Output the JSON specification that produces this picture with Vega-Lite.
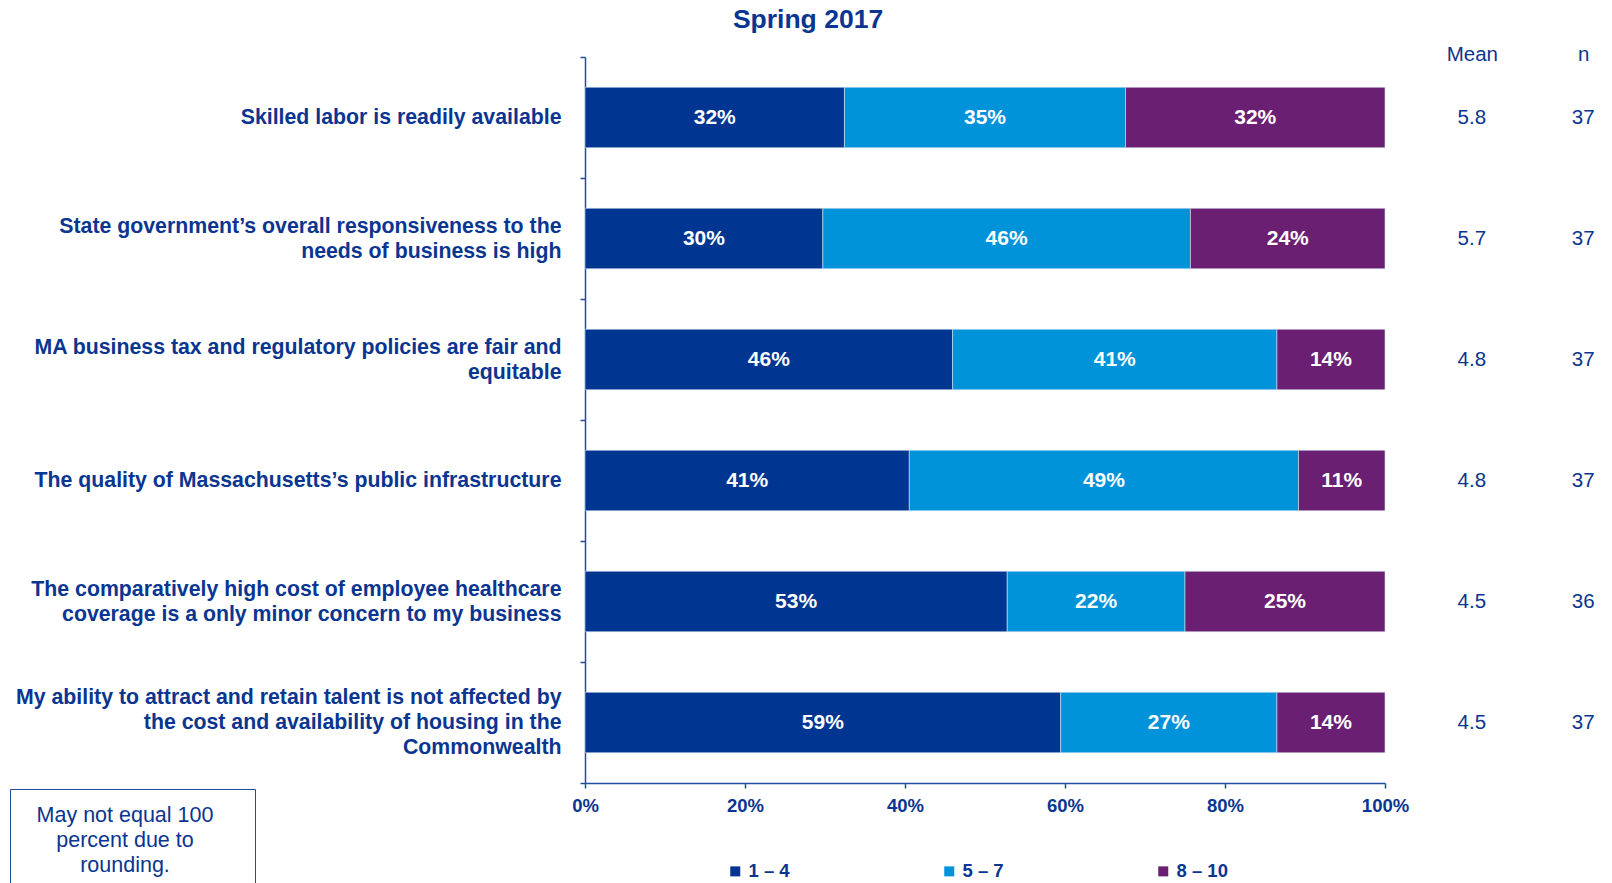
{
  "$schema": "https://vega.github.io/schema/vega-lite/v6.json",
  "padding": {"left": 5, "top": 6, "right": 5, "bottom": 5},
  "background": "white",
  "config": {"font": "Liberation Sans", "view": {"stroke": null}},
  "title": {"text": "Spring 2017", "fontSize": 26.5, "fontWeight": "bold", "color": "#0A3590", "anchor": "middle", "offset": 11},
  "bounds": "flush",
  "spacing": 59,
  "resolve": {"legend": {"color": "independent", "fill": "independent"}},
  "datasets": {
    "bars": [
      {"statement": "Skilled labor is readily available", "band": "1 – 4", "pct": 0.3243},
      {"statement": "Skilled labor is readily available", "band": "5 – 7", "pct": 0.3514},
      {"statement": "Skilled labor is readily available", "band": "8 – 10", "pct": 0.3243},
      {"statement": "State government’s overall responsiveness to the\nneeds of business is high", "band": "1 – 4", "pct": 0.2973},
      {"statement": "State government’s overall responsiveness to the\nneeds of business is high", "band": "5 – 7", "pct": 0.4595},
      {"statement": "State government’s overall responsiveness to the\nneeds of business is high", "band": "8 – 10", "pct": 0.2432},
      {"statement": "MA business tax and regulatory policies are fair and\nequitable", "band": "1 – 4", "pct": 0.4595},
      {"statement": "MA business tax and regulatory policies are fair and\nequitable", "band": "5 – 7", "pct": 0.4054},
      {"statement": "MA business tax and regulatory policies are fair and\nequitable", "band": "8 – 10", "pct": 0.1351},
      {"statement": "The quality of Massachusetts’s public infrastructure", "band": "1 – 4", "pct": 0.4054},
      {"statement": "The quality of Massachusetts’s public infrastructure", "band": "5 – 7", "pct": 0.4865},
      {"statement": "The quality of Massachusetts’s public infrastructure", "band": "8 – 10", "pct": 0.1081},
      {"statement": "The comparatively high cost of employee healthcare\ncoverage is a only minor concern to my business", "band": "1 – 4", "pct": 0.5278},
      {"statement": "The comparatively high cost of employee healthcare\ncoverage is a only minor concern to my business", "band": "5 – 7", "pct": 0.2222},
      {"statement": "The comparatively high cost of employee healthcare\ncoverage is a only minor concern to my business", "band": "8 – 10", "pct": 0.25},
      {"statement": "My ability to attract and retain talent is not affected by\nthe cost and availability of housing in the\nCommonwealth", "band": "1 – 4", "pct": 0.5946},
      {"statement": "My ability to attract and retain talent is not affected by\nthe cost and availability of housing in the\nCommonwealth", "band": "5 – 7", "pct": 0.2703},
      {"statement": "My ability to attract and retain talent is not affected by\nthe cost and availability of housing in the\nCommonwealth", "band": "8 – 10", "pct": 0.1351}
    ],
    "stats": [
      {"statement": "Skilled labor is readily available", "col": "Mean", "value": "5.8"},
      {"statement": "Skilled labor is readily available", "col": "n", "value": "37"},
      {"statement": "State government’s overall responsiveness to the\nneeds of business is high", "col": "Mean", "value": "5.7"},
      {"statement": "State government’s overall responsiveness to the\nneeds of business is high", "col": "n", "value": "37"},
      {"statement": "MA business tax and regulatory policies are fair and\nequitable", "col": "Mean", "value": "4.8"},
      {"statement": "MA business tax and regulatory policies are fair and\nequitable", "col": "n", "value": "37"},
      {"statement": "The quality of Massachusetts’s public infrastructure", "col": "Mean", "value": "4.8"},
      {"statement": "The quality of Massachusetts’s public infrastructure", "col": "n", "value": "37"},
      {"statement": "The comparatively high cost of employee healthcare\ncoverage is a only minor concern to my business", "col": "Mean", "value": "4.5"},
      {"statement": "The comparatively high cost of employee healthcare\ncoverage is a only minor concern to my business", "col": "n", "value": "36"},
      {"statement": "My ability to attract and retain talent is not affected by\nthe cost and availability of housing in the\nCommonwealth", "col": "Mean", "value": "4.5"},
      {"statement": "My ability to attract and retain talent is not affected by\nthe cost and availability of housing in the\nCommonwealth", "col": "n", "value": "37"}
    ]
  },
  "hconcat": [
    {
      "width": 800,
      "height": 726,
      "data": {"name": "bars"},
      "transform": [
        {"stack": "pct", "groupby": ["statement"], "sort": [{"field": "band", "order": "ascending"}], "as": ["x0", "x1"]}
      ],
      "encoding": {
        "y": {
          "field": "statement",
          "type": "nominal",
          "sort": [
            "Skilled labor is readily available",
            "State government’s overall responsiveness to the\nneeds of business is high",
            "MA business tax and regulatory policies are fair and\nequitable",
            "The quality of Massachusetts’s public infrastructure",
            "The comparatively high cost of employee healthcare\ncoverage is a only minor concern to my business",
            "My ability to attract and retain talent is not affected by\nthe cost and availability of housing in the\nCommonwealth"
          ],
          "scale": {"paddingInner": 0, "paddingOuter": 0},
          "axis": {
            "title": null,
            "labelExpr": "split(datum.label, '\\n')",
            "labelFontSize": 21.3,
            "labelFontWeight": "bold",
            "labelColor": "#0A3590",
            "labelLimit": 1000,
            "labelLineHeight": 25,
            "labelOffset": {"expr": "-(length(split(datum.value, '\\n')) - 1) * 12.5"},
            "labelPadding": 19,
            "tickSize": 5,
            "tickBand": "extent",
            "tickColor": "#1F4E9E",
            "tickWidth": 1.5,
            "domainColor": "#1F4E9E",
            "domainWidth": 1.5,
            "minExtent": 580,
            "maxExtent": 580
          }
        }
      },
      "layer": [
        {
          "mark": {"type": "bar", "height": {"band": 0.5}, "stroke": "#D8E4F4", "strokeWidth": 0.6},
          "encoding": {
            "x": {
              "field": "x0",
              "type": "quantitative",
              "scale": {"domain": [0, 1], "nice": false},
              "axis": {
                "title": null,
                "values": [0, 0.2, 0.4, 0.6, 0.8, 1],
                "format": ".0%",
                "grid": false,
                "labelFontSize": 18.5,
                "labelFontWeight": "bold",
                "labelColor": "#0A3590",
                "labelFlush": false,
                "labelOverlap": false,
                "labelPadding": 8,
                "tickSize": 5,
                "tickColor": "#1F4E9E",
                "tickWidth": 1.5,
                "domainColor": "#1F4E9E",
                "domainWidth": 1.5
              }
            },
            "x2": {"field": "x1"},
            "color": {
              "field": "band",
              "type": "nominal",
              "scale": {"domain": ["1 – 4", "5 – 7", "8 – 10"], "range": ["#003591", "#0093DA", "#6A1F73"]},
              "legend": {
                "title": null,
                "orient": "none",
                "legendX": 141,
                "legendY": 805,
                "direction": "horizontal",
                "symbolType": "square",
                "symbolSize": 100,
                "symbolStrokeWidth": 0,
                "labelFontSize": 18.5,
                "labelFontWeight": "bold",
                "labelColor": "#0A3590",
                "labelOffset": 4,
                "columnPadding": 150,
                "padding": 0
              }
            }
          }
        },
        {
          "transform": [{"fold": ["x0", "x1"], "as": ["edge", "pos"]}],
          "mark": {"type": "text", "color": "white", "fontWeight": "bold", "fontSize": 21},
          "encoding": {
            "x": {"aggregate": "mean", "field": "pos", "type": "quantitative"},
            "detail": {"field": "band", "type": "nominal"},
            "text": {"aggregate": "max", "field": "pct", "type": "quantitative", "format": ".0%"}
          }
        }
      ]
    },
    {
      "width": 167,
      "height": 726,
      "data": {"name": "stats"},
      "mark": {"type": "text", "fontSize": 20.5},
      "encoding": {
        "y": {
          "field": "statement",
          "type": "nominal",
          "sort": [
            "Skilled labor is readily available",
            "State government’s overall responsiveness to the\nneeds of business is high",
            "MA business tax and regulatory policies are fair and\nequitable",
            "The quality of Massachusetts’s public infrastructure",
            "The comparatively high cost of employee healthcare\ncoverage is a only minor concern to my business",
            "My ability to attract and retain talent is not affected by\nthe cost and availability of housing in the\nCommonwealth"
          ],
          "scale": {"paddingInner": 0, "paddingOuter": 0},
          "axis": null
        },
        "x": {
          "field": "col",
          "type": "nominal",
          "sort": ["Mean", "n"],
          "scale": {"type": "point", "padding": 0.25},
          "axis": {
            "orient": "top",
            "title": null,
            "domain": false,
            "ticks": false,
            "tickSize": 0,
            "labelAngle": 0,
            "labelFontSize": 20.5,
            "labelColor": "#0A3590",
            "labelBaseline": "alphabetic",
            "labelPadding": -3
          }
        },
        "text": {"field": "value", "type": "nominal"},
        "fill": {
          "datum": 1,
          "type": "quantitative",
          "scale": {"domain": [0, 1], "range": ["#0A3590", "#0A3590"]},
          "legend": {
            "type": "gradient",
            "title": ["May not equal 100", "percent due to", "rounding."],
            "orient": "none",
            "legendX": -1434,
            "legendY": 732,
            "direction": "horizontal",
            "gradientLength": 213,
            "gradientThickness": 1,
            "gradientOpacity": 0,
            "gradientStrokeWidth": 0,
            "labelExpr": "''",
            "titleFontSize": 21.5,
            "titleFontWeight": "normal",
            "titleColor": "#0A3590",
            "titleAlign": "center",
            "titleAnchor": "middle",
            "titleLineHeight": 25,
            "titleLimit": 1000,
            "titlePadding": 0,
            "strokeColor": "#1F4E9E",
            "padding": 16
          }
        }
      }
    }
  ]
}
